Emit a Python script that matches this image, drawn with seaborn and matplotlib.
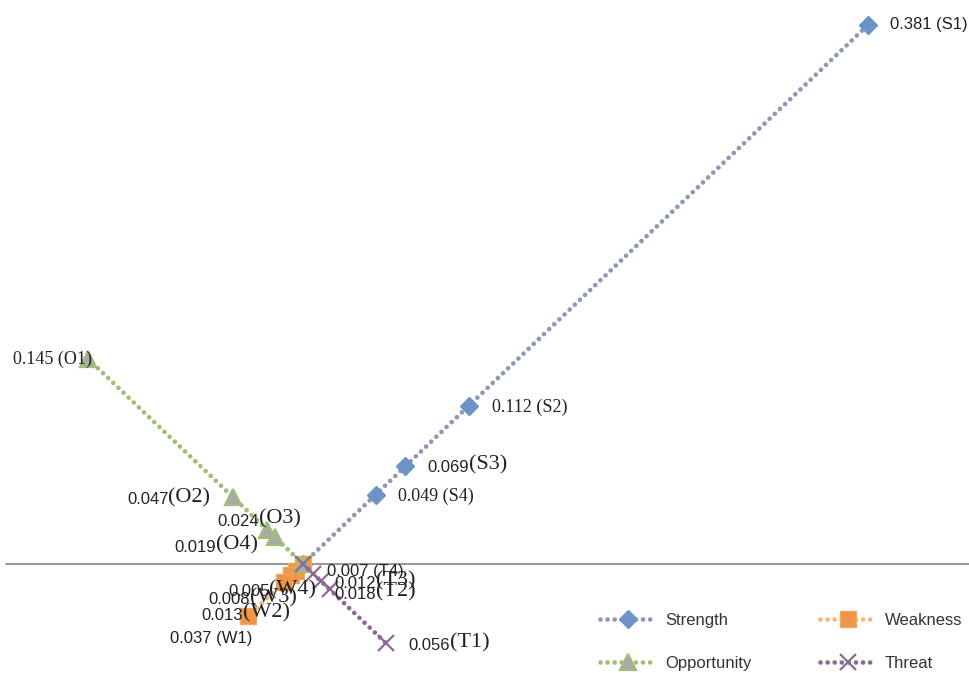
import numpy as np
import pandas as pd
import seaborn as sns
import matplotlib.pyplot as plt

# Данные SWOT (значения приоритетов)
strength_codes = ['S1', 'S2', 'S3', 'S4']
strength_vals = [0.381, 0.112, 0.069, 0.049]
weakness_codes = ['W1', 'W2', 'W3', 'W4']
weakness_vals = [0.037, 0.013, 0.008, 0.005]
opportunity_codes = ['O1', 'O2', 'O3', 'O4']
opportunity_vals = [0.145, 0.047, 0.024, 0.019]
threat_codes = ['T1', 'T2', 'T3', 'T4']
threat_vals = [0.056, 0.018, 0.012, 0.007]

sns.set_theme(style='white')
plt.rcParams['font.family'] = ['Liberation Sans', 'DejaVu Sans']

SANS = dict(family='Liberation Sans', fontsize=12, color='#222222')
SERIF = dict(family='Liberation Serif', fontsize=13, color='#222222')
SERIF_BIG = dict(family='Liberation Serif', fontsize=16, color='#222222')

# серия: (коды, значения, знак x, знак y, цвет линии, маркер, заливка, кромка, размер)
series = {
    'Strength': (strength_codes, strength_vals, 1, 1, '#8d99b5', 'D', '#6b93c5', '#6b93c5', 9.5),
    'Weakness': (weakness_codes, weakness_vals, -1, -1, '#f5b878', 's', '#ee9647', '#f0a861', 11),
    'Opportunity': (opportunity_codes, opportunity_vals, -1, 1, '#9fbf76', '^', '#a9a9ab', '#9fbf76', 11),
    'Threat': (threat_codes, threat_vals, 1, -1, '#8b6b94', 'x', '#8b6b94', '#8b6b94', 12),
}

# стиль подписи и смещение (в пунктах) для каждой точки
label_style = {
    'S1': ('sans', (16, 0)), 'S2': ('serif', (16.5, -1.5)), 'S3': ('mix', (16, -0.7)), 'S4': ('serif', (16, -1.5)),
    'T1': ('mix', (16, -1.5)), 'T2': ('mix', (3.6, -3.6)), 'T3': ('mix', (10, -1.5)), 'T4': ('sans', (10, 1.5)),
    'O1': ('serif', (3, -0.7)), 'O2': ('mix', (-16.5, 0)), 'O3': ('mix', (24, 8)), 'O4': ('mix', (-12, -5.8)),
    'W1': ('sans', (3, -16)), 'W2': ('mix', (4.3, -22)), 'W3': ('mix', (4.3, -16)), 'W4': ('mix', (15, -13.5)),
}

fig = plt.figure(figsize=(9.69, 6.73), dpi=100)
ax = fig.add_axes([0, 0, 1, 1])

ax.axhline(0, xmin=6 / 969, xmax=1, color='#999999', lw=1.5, zorder=1)

handles = {}
for name, (codes, vals, sx, sy, lc, mk, mfc, mec, ms) in series.items():
    # линия от начала координат через все точки по возрастанию
    df = pd.DataFrame({'v': [0] + list(vals)}).sort_values('v')
    df['x'] = sx * df['v']
    df['y'] = sy * df['v']
    sns.lineplot(data=df, x='x', y='y', ax=ax, sort=False, estimator=None,
                 color=lc, lw=3.4, linestyle=(0, (0.001, 1.5)), dash_capstyle='round',
                 marker=mk, markersize=ms, markerfacecolor=mfc, markeredgecolor=mec,
                 markeredgewidth=1.6 if mk in ('x', '^') else 1, label=name, zorder=3)
    handles[name] = ax.lines[-1]

    for code, v in zip(codes, vals):
        style, (dx, dy) = label_style[code]
        x, y = sx * v, sy * v
        num = f'{v:.3f}'
        right = sx > 0
        if style == 'mix':
            if right:
                t = ax.annotate(num, (x, y), xytext=(dx, dy), textcoords='offset points',
                                ha='left', va='center', zorder=5, **SANS)
                ax.annotate(f'({code})', xy=(1, 0), xycoords=t, ha='left', va='bottom', zorder=5, **SERIF_BIG)
            else:
                t = ax.annotate(f'({code})', (x, y), xytext=(dx, dy), textcoords='offset points',
                                ha='right', va='center', zorder=5, **SERIF_BIG)
                ax.annotate(num, xy=(0, 0), xycoords=t, ha='right', va='bottom', zorder=5, **SANS)
        else:
            font = SANS if style == 'sans' else SERIF
            ax.annotate(f'{num} ({code})', (x, y), xytext=(dx, dy), textcoords='offset points',
                        ha='left' if right else 'right', va='center', zorder=5, **font)

ax.set_xlim(-303 / 1483, 666 / 1483)
ax.set_ylim(-109 / 1415, 564 / 1415)
ax.set_axis_off()

order = ['Strength', 'Opportunity', 'Weakness', 'Threat']
leg = ax.legend([handles[k] for k in order], order, ncol=2, frameon=False,
                loc='upper left', bbox_to_anchor=(600 / 969, 1 - 613 / 673),
                borderpad=0, borderaxespad=0, fontsize=12, handlelength=3.35,
                handletextpad=0.55, columnspacing=4.1, labelspacing=1.7)
for t in leg.get_texts():
    t.set_color('#333333')

fig.savefig('out.png', dpi=100)
